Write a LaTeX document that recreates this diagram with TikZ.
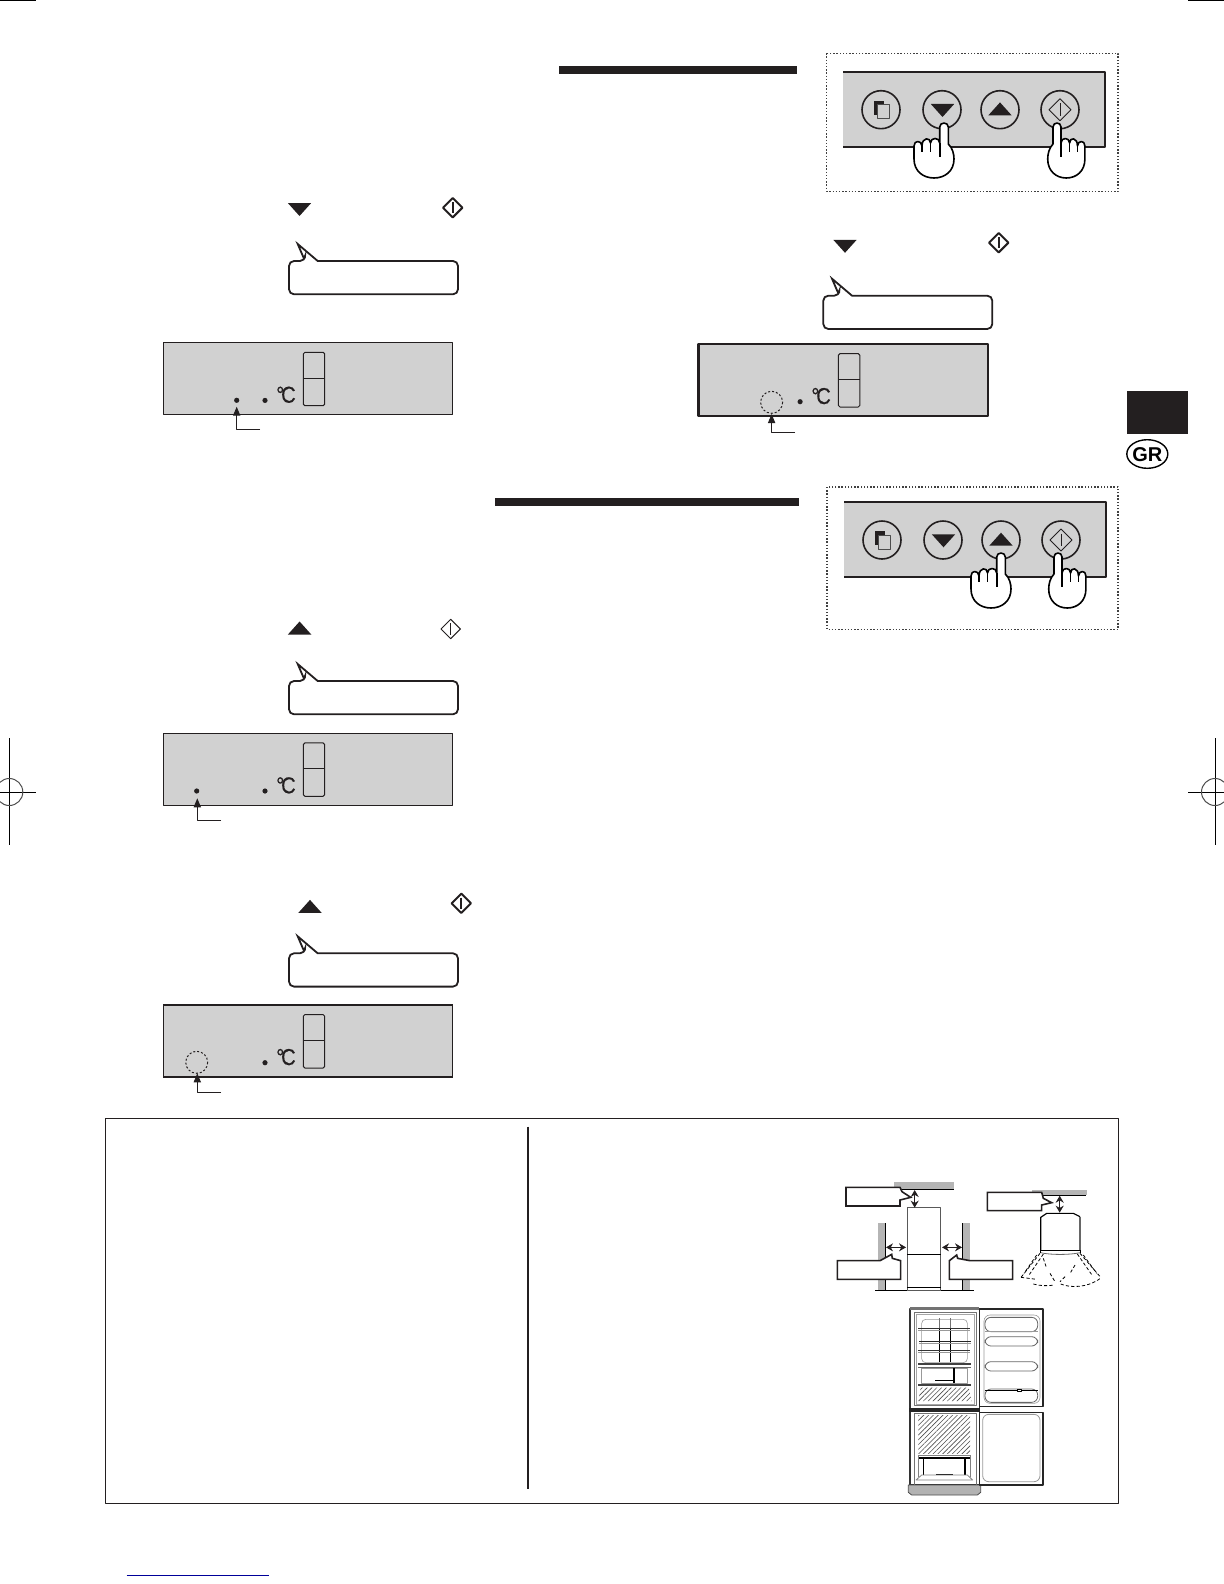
\documentclass[tikz,border=0pt]{standalone}
\usepackage{fontspec}
\setmainfont{Liberation Sans}
\newfontfamily\tempfont[FakeStretch=0.88,FakeBold=0.4]{Liberation Sans}
\usetikzlibrary{arrows.meta,patterns.meta}
\definecolor{inkblack}{HTML}{231F20}
\definecolor{panelgray}{HTML}{D1D1D1}
\definecolor{wallgray}{HTML}{B5B5B5}
\tikzset{
	leaderline/.style={inkblack, line width=0.5pt, -{Triangle[length=4.5pt,width=3.6pt]}},
	dblarrow/.style={inkblack, line width=0.7pt, {Stealth[length=3.5pt,width=4pt]}-{Stealth[length=3.5pt,width=4pt]}},
	calloutbox/.style={draw=inkblack, fill=white, line width=0.8pt, line join=miter},
	hatchzone/.style={pattern={Lines[angle=45,distance=1.7pt,line width=0.3pt]}, pattern color=black!70},
	doordash/.style={line width=0.4pt, dash pattern=on 1.6pt off 1.1pt},
	dotbox/.style={black!75, line width=0.6pt, dash pattern=on 0.7pt off 0.9pt},
	pics/hand/.style={code={
		\path[draw=black, fill=white, line width=0.8pt, line join=round]
			(-4.3,4) .. controls (-4.3,-1.3) and (4.3,-1.3) .. (4.3,4) -- (4.3,21)
			.. controls (8.5,25) and (10,31) .. (10,36)
			.. controls (10,48) and (1,55) .. (-10,55)
			.. controls (-21,55) and (-30,48) .. (-30,36) -- (-30,23)
			.. controls (-30,17) and (-22.5,17) .. (-22,23)
			.. controls (-22,14) and (-13.5,14) .. (-13.5,20)
			.. controls (-13.5,14) and (-4.3,14) .. (-4.3,20) -- cycle;
		\draw[line width=0.6pt] (-22,23) -- (-22,29);
		\draw[line width=0.6pt] (-13.5,20) -- (-13.5,29);
		\draw[line width=0.9pt] (-4.3,20) -- (-4.3,34);
	}},
	pics/speech/.style={code={
		\draw[draw=inkblack, fill=white, line width=0.9pt, line join=miter]
			(16,0) -- (8.7,-17) -- (28.7,0) [rounded corners=2.5pt] -- (169,0) -- (169,33.3) -- (0,33.3) -- (0,0) -- (16,0) -- cycle;
	}},
	pics/downmark/.style={code={\fill[inkblack] (-11.7,-6.5) -- (11.7,-6.5) -- (0,6.5) -- cycle;}},
	pics/upmark/.style={code={\fill[inkblack] (-11.7,6.5) -- (11.7,6.5) -- (0,-6.5) -- cycle;}},
	pics/startmark/.style={code={
		\draw[inkblack, line width=#1] (-9.7,0) -- (0,-9.7) -- (9.7,0) -- (0,9.7) -- cycle;
		\draw[inkblack, line width=#1] (0,-5.7) -- (0,5.7);
	}},
	pics/lcd/.style={code={
		\draw[inkblack, fill=panelgray, line width=#1] (0,0) rectangle (289.4,72);
		\draw[inkblack, line width=0.5pt, rounded corners=0.8pt] (140,9.6) rectangle (161.4,63);
		\draw[inkblack, line width=0.5pt] (140,35.6) -- (161.4,35.6);
		\fill[inkblack] (101.7,57.7) circle (2.6);
		\node[anchor=base, inner sep=0pt, text=inkblack, font=\tempfont\fontsize{11.5}{11.5}\selectfont] (-temp) at (122.7,60) {°\kern-1.6pt C};
	}},
	pics/keypanel/.style={code={
		\fill[panelgray] (0,0) rectangle (261.7,75);
		\draw[inkblack, line width=1.1pt] (0,0) -- (261.7,0) -- (261.7,75) -- (0,75);
		% four keys
		\foreach \keyx in {37.7,98.7,156.7,216.7}
			\draw[inkblack, line width=0.8pt] (\keyx,38) circle (19);
		\fill[inkblack] (30.5,29) rectangle (40.5,43);
		\draw[black!70, fill=panelgray, line width=0.5pt] (34.5,33) rectangle (46.5,47);
		\pic at (99.2,38.8) {downmark};
		\pic at (156.7,37.2) {upmark};
		\pic[scale=1.13] at (216.7,38) {startmark=0.45pt};
	}}
}
\begin{document}
\begin{tikzpicture}[x=0.5pt, y=-0.5pt, line join=round]
	\useasboundingbox (0,0) rectangle (1224,1584);
	% Crop marks
	\fill (0,0) rectangle (36,1.5);
	\fill (1188,0) rectangle (1224,1.5);
	\foreach \cropx/\cropa/\cropb in {9.3/0/36, 1215/1188/1224} {
		\draw[line width=0.5pt] (\cropx,738) -- (\cropx,845);
		\draw[line width=0.5pt] (\cropa,792) -- (\cropb,792);
		\draw[black!70, line width=0.5pt] (\cropx,792) circle (13.5);
	}
	% Header bars
	\fill[inkblack] (558.5,66) rectangle (797,74);
	\fill[inkblack] (495,498) rectangle (799,506);
	% Side tab
	\fill[inkblack] (1127,391) rectangle (1188,433.5);
	\draw[line width=0.7pt] (1147.3,454) ellipse (20.5 and 14.3);
	\node[inner sep=0pt, font=\fontsize{10}{10}\selectfont\bfseries] (tabGR) at (1147.3,454.3) {GR};
	% Key panels with hands
	\draw[dotbox] (826.7,53.3) rectangle (1118,191.5);
	\pic (keysA) at (843.3,71.7) {keypanel};
	\pic at (944,123) {hand};
	\pic[xscale=-0.93] at (1057,123) {hand};
	\draw[dotbox] (827,487) rectangle (1118,629.5);
	\pic (keysB) at (844.3,502) {keypanel};
	\pic at (1001,553) {hand};
	\pic[xscale=-0.93] at (1058,553) {hand};
	% First step
	\pic at (299.5,209.5) {downmark};
	\pic at (452.7,207.7) {startmark=1pt};
	\pic at (289,261) {speech};
	\pic (lcdA) at (163.3,342.7) {lcd=0.5pt};
	\fill[inkblack] (236.7,400.3) circle (2.6);
	\coordinate (tipA) at (236.7,406.7);
	\coordinate (endA) at (260,429);
	\draw[leaderline] (endA) -| (tipA);
	% Second step, right column
	\pic at (845,246.3) {downmark};
	\pic at (998.7,242.7) {startmark=1pt};
	\pic at (823.3,295.7) {speech};
	\pic (lcdB) at (698.4,344) {lcd=1.1pt};
	\draw[inkblack, line width=0.5pt, dash pattern=on 1pt off 1pt] (771.6,402.3) circle (11);
	\coordinate (tipB) at (771.6,414);
	\coordinate (endB) at (795,432);
	\draw[leaderline] (endB) -| (tipB);
	% Third step
	\pic at (299.6,628) {upmark};
	\pic at (450.7,629) {startmark=0.5pt};
	\pic at (289,681) {speech};
	\pic (lcdC) at (163.3,733.3) {lcd=0.5pt};
	\fill[inkblack] (196.7,791) circle (2.6);
	\coordinate (tipC) at (197.3,798.3);
	\coordinate (endC) at (221,820.7);
	\draw[leaderline] (endC) -| (tipC);
	% Fourth step
	\pic at (310,906.4) {upmark};
	\pic at (461.3,903.3) {startmark=1pt};
	\pic at (289,953.3) {speech};
	\pic (lcdD) at (163.3,1005) {lcd=0.5pt};
	\draw[inkblack, line width=1.1pt] (163.3,1005) -- (452.7,1005);
	\draw[inkblack, line width=1.1pt] (163.3,1077) -- (452.7,1077);
	\draw[inkblack, line width=0.5pt, dash pattern=on 1pt off 1pt] (196.7,1062.3) circle (11);
	\coordinate (tipD) at (197.3,1073.3);
	\coordinate (endD) at (221,1092.3);
	\draw[leaderline] (endD) -| (tipD);
	% Bottom frame
	\draw[inkblack, line width=0.6pt] (105.3,1118.3) rectangle (1118.3,1503.3);
	\draw[inkblack, line width=1pt] (527.7,1126.7) -- (527.7,1489);
	\draw[blue!60!black, line width=0.6pt] (126.7,1575.3) -- (269,1575.3);
	% Clearance sketches
	\begin{scope}[shift={(820,1160)}, x=0.16667pt, y=-0.16667pt]
		% front view
		\fill[wallgray] (222,67) rectangle (402,88);
		\fill[wallgray] (175,190) rectangle (196,392);
		\fill[wallgray] (428,190) rectangle (450,392);
		\draw[line width=0.5pt] (240,88) -- (402,88);
		\draw[line width=0.5pt] (196,190) -- (196,392);
		\draw[line width=0.5pt] (428,190) -- (428,392);
		\draw[line width=0.5pt] (165,392) -- (462,392);
		\draw[black!65, fill=white, line width=0.6pt] (262,143) rectangle (362,392);
		\draw[line width=0.5pt] (262,283) -- (362,283);
		\draw[line width=0.5pt] (262,383) -- (362,383);
		\coordinate (topGapA) at (284,90);
		\coordinate (topGapB) at (284,143);
		\coordinate (leftGapA) at (198,262);
		\coordinate (leftGapB) at (258,262);
		\coordinate (rightGapA) at (366,262);
		\coordinate (rightGapB) at (426,262);
		\draw[dblarrow] (topGapA) -- (topGapB);
		\draw[dblarrow] (leftGapA) -- (leftGapB);
		\draw[dblarrow] (rightGapA) -- (rightGapB);
		\draw[calloutbox] (78,82) -- (240,82) -- (246,95) -- (272,112) -- (240,120) -- (240,138) -- (78,138) -- cycle;
		\draw[calloutbox] (52,302) -- (180,302) -- (215,283) -- (217,295) -- (242,302) -- (242,358) -- (52,358) -- cycle;
		\draw[calloutbox] (388,302) -- (410,285) -- (413,295) -- (450,302) -- (578,302) -- (578,358) -- (388,358) -- cycle;
		% side view
		\fill[wallgray] (637,90) rectangle (800,105);
		\draw[line width=0.5pt] (650,105) -- (797,105);
		\draw[calloutbox] (502,97) -- (665,97) -- (670,115) -- (695,128) -- (665,135) -- (665,152) -- (502,152) -- cycle;
		\draw[line width=0.6pt] (662,270) -- (662,172) -- (680,160) -- (760,160) -- (780,170);
		\draw[black!60, line width=0.6pt] (780,170) -- (780,270);
		\draw[line width=0.5pt] (662,270) -- (780,270);
		\draw[black!60, line width=0.4pt] (662,278) .. controls (690,285) and (750,285) .. (780,278);
		\draw[line width=0.5pt] (662,270) -- (662,280);
		\draw[line width=0.5pt] (780,270) -- (780,280);
		\coordinate (sideGapA) at (719,107);
		\coordinate (sideGapB) at (719,158);
		\draw[dblarrow] (sideGapA) -- (sideGapB);
		\draw[doordash] (660,280) -- (603,352);
		\draw[doordash] (670,282) -- (625,348);
		\draw[doordash] (650,285) -- (612,340);
		\draw[doordash] (670,295) -- (680,325);
		\draw[doordash] (603,352) -- (650,358);
		\draw[doordash] (690,340) -- (705,365);
		\draw[doordash] (640,372) .. controls (660,378) and (685,378) .. (703,375);
		\draw[doordash] (780,280) -- (842,352);
		\draw[doordash] (772,282) -- (818,348);
		\draw[doordash] (790,285) -- (830,340);
		\draw[doordash] (765,315) -- (750,340);
		\draw[doordash] (735,350) -- (720,365);
		\draw[doordash] (722,372) .. controls (750,384) and (805,384) .. (842,354);
	\end{scope}
	% Open fridge
	\begin{scope}[shift={(890,1285)}, x=0.16667pt, y=-0.16667pt]
		% cabinet
		\draw[black!80, line width=0.8pt] (60,72) rectangle (268,600);
		\fill[black!55] (60,67) rectangle (268,75);
		\draw[black!55, line width=0.5pt] (72,82) rectangle (258,362);
		\draw[black!35, line width=0.3pt] (78,88) rectangle (252,358);
		\draw[black!55, line width=0.5pt] (72,385) rectangle (258,600);
		\fill[black!85] (58,368) rectangle (270,382);
		\path[draw=black!70, fill=black!30, line width=0.4pt] (55,600) -- (272,600) -- (272,622) -- (262,630) -- (65,630) -- (55,622) -- cycle;
		% fridge shelves
		\draw[black!40, line width=0.3pt, rounded corners=2pt] (95,103) rectangle (232,233);
		\draw[black!55, line width=0.4pt] (148,100) -- (148,130);
		\draw[black!55, line width=0.4pt] (182,100) -- (182,130);
		\draw[line width=0.8pt] (148,132) -- (148,230);
		\draw[line width=0.8pt] (182,132) -- (182,230);
		\draw[black!80, line width=0.4pt] (85,130) -- (240,130);
		\draw[black!40, line width=0.4pt] (85,135) -- (240,135);
		\draw[black!85, line width=0.7pt] (88,169) -- (242,169);
		\draw[black!40, line width=0.4pt] (88,174) -- (242,174);
		\draw[black!80, line width=0.5pt] (85,196) -- (240,196);
		\draw[black!40, line width=0.4pt] (85,201) -- (240,201);
		\fill[black!75] (85,233) rectangle (242,240);
		\draw[black!60, line width=0.4pt] (85,248) -- (242,248);
		\draw[black!40, line width=0.3pt] (95,250) rectangle (232,295);
		\draw[line width=1pt] (192,250) -- (192,295);
		\draw[line width=0.5pt] (135,285) -- (190,285);
		\fill[black!75] (85,297) rectangle (242,303);
		\path[hatchzone] (92,308) -- (236,308) -- (245,348) -- (85,348) -- cycle;
		% freezer
		\path[hatchzone] (85,390) -- (240,390) -- (240,505) -- (85,505) -- cycle;
		\draw[line width=1pt] (85,518) -- (242,518);
		\draw[black!50, line width=0.4pt] (85,510) -- (242,510);
		\draw[line width=0.8pt] (100,520) -- (100,570);
		\draw[line width=0.8pt] (225,520) -- (225,570);
		\draw[black!50, line width=0.4pt] (85,510) -- (85,575);
		\draw[black!50, line width=0.4pt] (242,510) -- (242,575);
		\draw[line width=0.5pt] (138,568) -- (190,568);
		\draw[black!50, line width=0.4pt] (78,585) -- (95,570) -- (232,570) -- (248,585) -- cycle;
		% doors
		\draw[black!85, line width=0.8pt] (268,72) rectangle (459,365);
		\draw[black!85, line width=0.6pt] (268,383) rectangle (459,600);
		\draw[black!40, line width=0.3pt, rounded corners=3pt] (282,90) rectangle (450,355);
		\draw[black!40, line width=0.4pt, rounded corners=3pt] (278,388) rectangle (450,590);
		\draw[black!60, line width=0.4pt, rounded corners=3pt] (285,97) rectangle (443,140);
		\draw[black!40, line width=0.8pt] (285,140) -- (443,140);
		\draw[black!60, line width=0.4pt, rounded corners=3pt] (285,155) rectangle (443,183);
		\draw[black!60, line width=0.4pt, rounded corners=3pt] (285,230) rectangle (443,258);
		\draw[black!60, line width=0.4pt, rounded corners=3pt] (285,312) rectangle (443,352);
		\draw[line width=0.5pt] (285,316) -- (382,316);
		\draw[line width=0.5pt] (395,316) -- (443,316);
		\draw[line width=0.4pt] (382,313) rectangle (395,320);
	\end{scope}
\end{tikzpicture}
\end{document}
